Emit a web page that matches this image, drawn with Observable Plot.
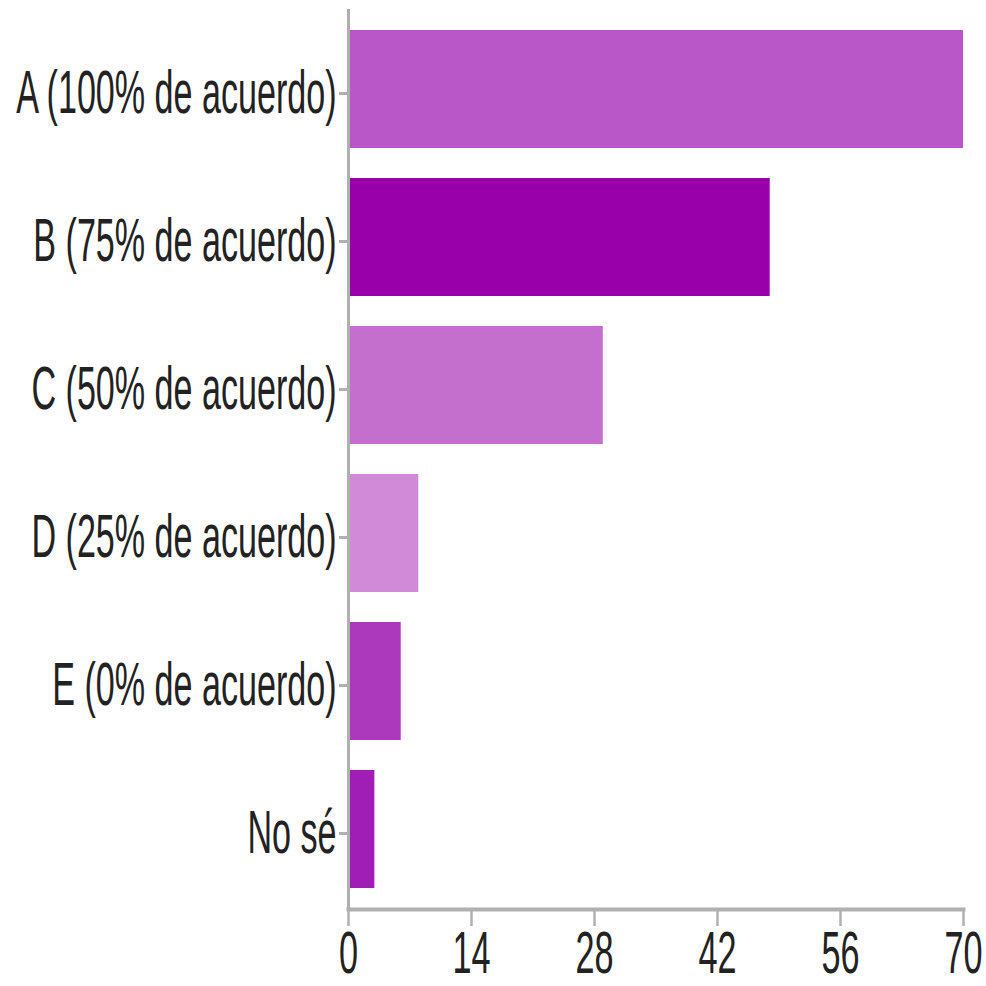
<!DOCTYPE html>
<html>
<head>
<meta charset="utf-8">
<script src="https://cdn.jsdelivr.net/npm/d3@7"></script>
<script src="https://cdn.jsdelivr.net/npm/@observablehq/plot@0.6"></script>
<style>
  html, body { margin: 0; padding: 0; background: #fff; }
  #chart svg [aria-label="x-axis tick"] { stroke: #b0b0b0; stroke-width: 2.5px; }
  #chart svg [aria-label="y-axis tick"] { stroke: #b0b0b0; stroke-width: 3px; }
</style>
</head>
<body>
<div id="chart"></div>
<script>
const categories = ["A (100% de acuerdo)", "B (75% de acuerdo)", "C (50% de acuerdo)", "D (25% de acuerdo)", "E (0% de acuerdo)", "No sé"];
const values = [70, 48, 29, 8, 6, 3];
const colors = ["#b956c8", "#9900aa", "#c46ece", "#d08ad8", "#ac38bb", "#a01eb6"];
const xTicks = [0, 14, 28, 42, 56, 70];

const data = categories.map((c, i) => ({label: c, value: values[i], color: colors[i]}));

const chart = Plot.plot({
  width: 986,
  height: 986,
  marginLeft: 348,
  marginRight: 23,
  marginTop: 9,
  marginBottom: 77,
  style: {fontFamily: "'Liberation Sans', Arial, sans-serif", background: "#fff", color: "#222"},
  x: {domain: [0, 70], ticks: xTicks, label: null},
  y: {domain: categories, paddingInner: 0.2, paddingOuter: 0.13, label: null},
  marks: [
    Plot.barX(data, {x: "value", y: "label", fill: "color"}),
    Plot.axisX({ticks: xTicks, tickSize: 17, tickPadding: 5, fontSize: 59, label: null, fill: "#222"}),
    Plot.axisY({tickSize: 9, tickPadding: 3, fontSize: 62, dy: 4, label: null, fill: "#222"}),
    Plot.ruleX([0], {stroke: "#b0b0b0", strokeWidth: 3}),
    Plot.frame({anchor: "bottom", stroke: "#b0b0b0", strokeWidth: 4})
  ]
});

document.getElementById("chart").appendChild(chart);

function squeeze(sel, s) {
  chart.querySelectorAll(sel).forEach(t => {
    const tr = t.getAttribute("transform") || "";
    t.setAttribute("transform", tr + ` scale(${s},1)`);
  });
}
squeeze('[aria-label="y-axis tick label"] text', 0.55);
squeeze('[aria-label="x-axis tick label"] text', 0.58);
</script>
</body>
</html>
